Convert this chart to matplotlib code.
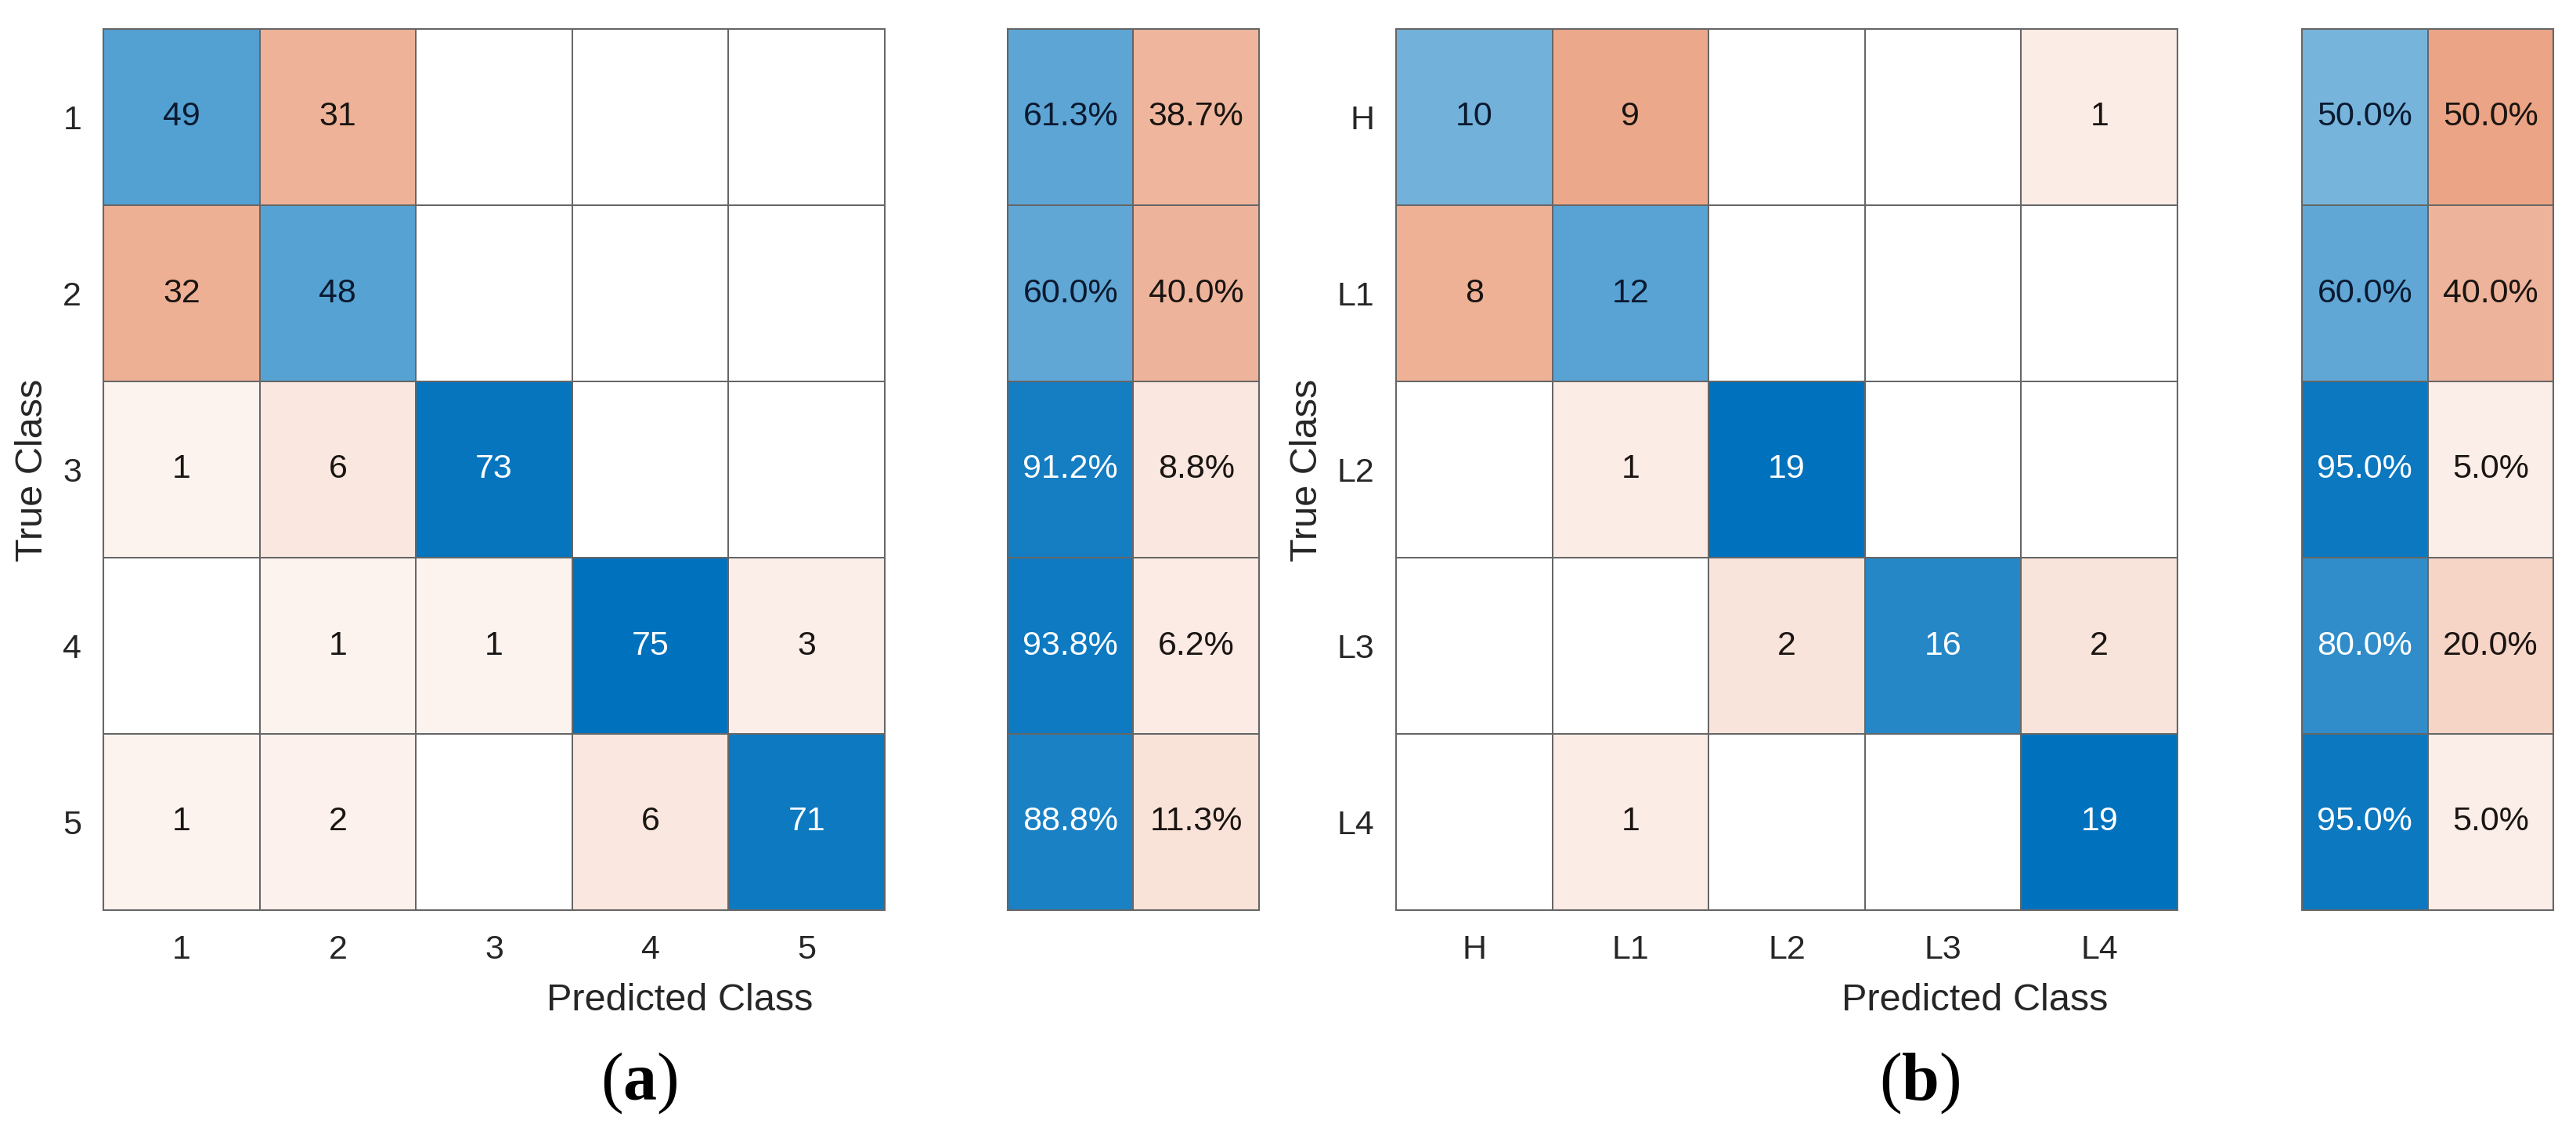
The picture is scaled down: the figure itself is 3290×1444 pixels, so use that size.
import matplotlib
matplotlib.use('Agg')
import matplotlib.pyplot as plt
import numpy as np
from matplotlib.colors import LinearSegmentedColormap, Normalize, to_rgb

plt.rcParams['font.family'] = ['Liberation Sans', 'DejaVu Sans']
plt.rcParams['mathtext.fontset'] = 'custom'
plt.rcParams['mathtext.rm'] = 'Liberation Serif'
plt.rcParams['mathtext.bf'] = 'Liberation Serif:bold'

# panel (a)
labels_a = ['1', '2', '3', '4', '5']
counts_a = [[49, 31, 0, 0, 0],
            [32, 48, 0, 0, 0],
            [1, 6, 73, 0, 0],
            [0, 1, 1, 75, 3],
            [1, 2, 0, 6, 71]]
correct_a = [61.3, 60.0, 91.2, 93.8, 88.8]
wrong_a = [38.7, 40.0, 8.8, 6.2, 11.3]

# panel (b)
labels_b = ['H', 'L1', 'L2', 'L3', 'L4']
counts_b = [[10, 9, 0, 0, 1],
            [8, 12, 0, 0, 0],
            [0, 1, 19, 0, 0],
            [0, 0, 2, 16, 2],
            [0, 1, 0, 0, 19]]
correct_b = [50.0, 60.0, 95.0, 80.0, 95.0]
wrong_b = [50.0, 40.0, 5.0, 20.0, 5.0]

W, H = 3291, 1444
fig = plt.figure(figsize=(W / 100, H / 100), dpi=100)


def tinted_cmap(name, full, floor=0.06):
    c = np.array(to_rgb(full))
    start = 1 - (1 - c) * floor
    cm = LinearSegmentedColormap.from_list(name, [tuple(start), tuple(c)])
    cm.set_under('white')
    return cm


blues = tinted_cmap('blu', '#0072bd')
oranges = tinted_cmap('org', '#d95319')
edge = '#666666'
txt = '#262626'


def px_axes(x0, x1, y0, y1):
    return fig.add_axes([x0 / W, 1 - y1 / H, (x1 - x0) / W, (y1 - y0) / H])


def draw_cells(ax, data, diag, vmax, pct=False):
    data = np.array(data, float)
    nr, nc = data.shape
    norm = Normalize(0, vmax)
    shade = np.where(data == 0, -1, data)
    ax.pcolormesh(np.ma.masked_where(~diag, shade), cmap=blues, norm=norm,
                  edgecolors=edge, linewidth=1.3)
    ax.pcolormesh(np.ma.masked_where(diag, shade), cmap=oranges, norm=norm,
                  edgecolors=edge, linewidth=1.3)
    for i in range(nr):
        for j in range(nc):
            v = data[i, j]
            if v == 0:
                continue
            s = f'{v:.1f}%' if pct else f'{int(v)}'
            if v / vmax > 0.7:
                c = 'white'
            elif diag[i, j]:
                c = '#0b1a30'
            else:
                c = '#1a1512'
            ax.text(j + 0.5, i + 0.5, s, ha='center', va='center',
                    fontsize=31, color=c)
    ax.set_xlim(0, nc)
    ax.set_ylim(nr, 0)
    for sp in ax.spines.values():
        sp.set_color(edge)
        sp.set_linewidth(1.5)


def panel(counts, labels, correct, wrong, xm, xp, tag, xlab_x, tag_x, ylab_x):
    counts = np.array(counts)
    n = len(labels)
    ax = px_axes(xm, xm + 998, 37, 1162)
    diag = np.eye(n, dtype=bool)
    draw_cells(ax, counts, diag, counts.max())
    ax.set_xticks(np.arange(n) + 0.5, labels)
    ax.set_yticks(np.arange(n) + 0.5, labels)
    ax.tick_params(length=0, labelsize=31, colors=txt)
    ax.tick_params(axis='x', pad=22)
    ax.tick_params(axis='y', pad=20)

    axp = px_axes(xp, xp + 321, 37, 1162)
    summ = np.column_stack([correct, wrong])
    pdiag = np.zeros_like(summ, dtype=bool)
    pdiag[:, 0] = True
    draw_cells(axp, summ, pdiag, 100.0, pct=True)
    axp.set_xticks([])
    axp.set_yticks([])

    fig.text(xlab_x / W, 1 - 1277 / H, 'Predicted Class', ha='center',
             va='center', fontsize=35, color=txt)
    fig.text(ylab_x / W, 1 - 600 / H, 'True Class', ha='center', va='center',
             rotation=90, fontsize=35, color=txt)
    fig.text(tag_x / W, 1 - 1383 / H, r'$(\mathbf{' + tag + r'})$',
             ha='center', va='center', fontsize=62, color='black')


panel(counts_a, labels_a, correct_a, wrong_a, 132, 1287, 'a', 868, 816, 42)
panel(counts_b, labels_b, correct_b, wrong_b, 1783, 2940, 'b', 2522, 2452, 1670)

fig.savefig('out.png', dpi=100, facecolor='white')
